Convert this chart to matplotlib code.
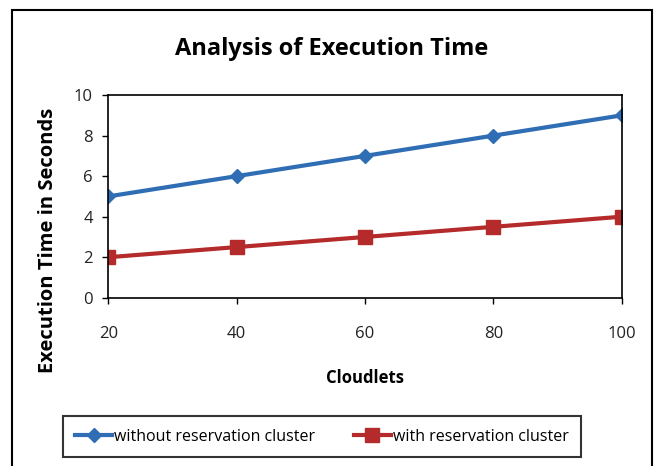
import matplotlib.pyplot as plt
from matplotlib.patches import Rectangle

cloudlets = [20, 40, 60, 80, 100]
without_res = [5, 6, 7, 8, 9]
with_res = [2, 2.5, 3, 3.5, 4]

plt.rcParams['font.family'] = ['Open Sans', 'DejaVu Sans']

fig = plt.figure(figsize=(6.56, 4.66), dpi=100)
ax = fig.add_axes([0.165, 0.361, 0.783, 0.435])

ax.plot(cloudlets, without_res, color='#2F6DB5', linewidth=3, marker='D',
        markersize=7, label='without reservation cluster')
ax.plot(cloudlets, with_res, color='#B52A2A', linewidth=3, marker='s',
        markersize=10, label='with reservation cluster')

ax.set_xlim(20, 100)
ax.set_ylim(0, 10)
ax.set_xticks(cloudlets)
ax.set_yticks([0, 2, 4, 6, 8, 10])
ax.tick_params(labelsize=12, length=4, width=1, labelcolor='#222222')
ax.tick_params(axis='x', pad=16)
ax.tick_params(axis='y', pad=7)
for s in ax.spines.values():
    s.set_linewidth(1.2)

fig.text(0.556, 0.189, 'Cloudlets', fontsize=12, fontweight='bold',
         ha='center', va='center')
fig.text(0.073, 0.485, 'Execution Time in Seconds', fontsize=14.5,
         fontweight='bold', rotation=90, ha='center', va='center')
fig.text(0.506, 0.895, 'Analysis of Execution Time', fontsize=17,
         fontweight='bold', ha='center', va='center')

leg = fig.legend(loc='center', bbox_to_anchor=(0.491, 0.063), ncol=2,
                 fontsize=11.5, frameon=True, fancybox=False, edgecolor='black',
                 handlelength=2.3, handletextpad=0.15, columnspacing=2.4,
                 borderpad=0.77, borderaxespad=0)
leg.get_frame().set_linewidth(1.5)

fig.patches.append(Rectangle((0.018, -0.1), 0.976, 1.079, transform=fig.transFigure,
                             fill=False, edgecolor='black', linewidth=1.5))

fig.savefig('out.png', dpi=100)
